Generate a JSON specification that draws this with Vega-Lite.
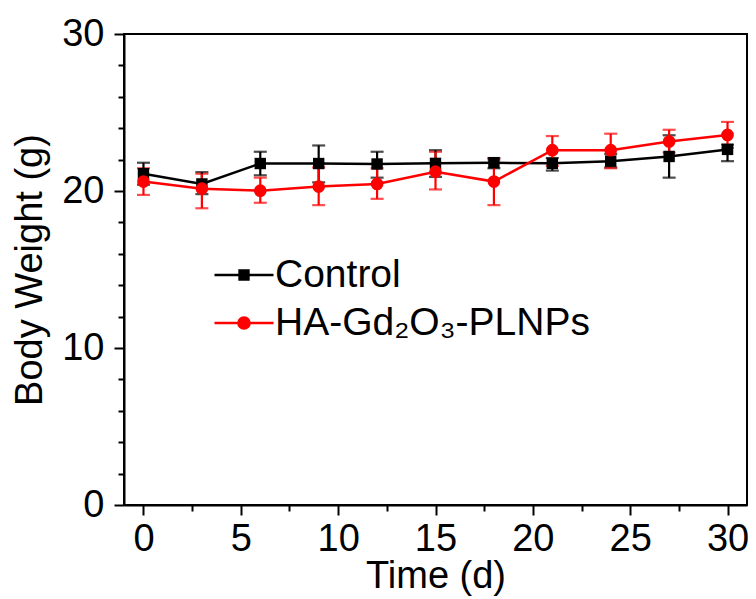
{
  "$schema": "https://vega.github.io/schema/vega-lite/v6.json",
  "width": 623,
  "height": 471,
  "autosize": {"type": "none"},
  "padding": {"left": 124, "top": 34, "right": 9, "bottom": 94},
  "background": "white",
  "config": {
    "font": "Liberation Sans",
    "view": {"stroke": "black", "strokeWidth": 2},
    "axis": {
      "domainColor": "black",
      "domainWidth": 2,
      "tickColor": "black",
      "tickWidth": 2,
      "labelColor": "black",
      "labelFont": "Liberation Sans",
      "titleFont": "Liberation Sans",
      "titleColor": "black",
      "titleFontWeight": "normal",
      "grid": false
    },
    "legend": {
      "orient": "none", "legendX": 89, "legendY": 217,
      "padding": 0, "rowPadding": 0, "clipHeight": 48,
      "symbolSize": 3481, "symbolStrokeWidth": 2.5,
      "labelFontSize": 39, "labelFont": "Liberation Sans", "labelColor": "black", "labelOffset": 0, "labelLimit": 450
    }
  },
  "data": {
    "values": [
      {"series": "Control", "t": 0, "w": 21.1, "lo": 20.4, "hi": 21.8},
      {"series": "Control", "t": 3, "w": 20.45, "lo": 19.8, "hi": 21.2},
      {"series": "Control", "t": 6, "w": 21.75, "lo": 21.0, "hi": 22.5},
      {"series": "Control", "t": 9, "w": 21.75, "lo": 20.55, "hi": 22.9},
      {"series": "Control", "t": 12, "w": 21.72, "lo": 20.85, "hi": 22.5},
      {"series": "Control", "t": 15, "w": 21.76, "lo": 20.9, "hi": 22.6},
      {"series": "Control", "t": 18, "w": 21.8, "lo": 21.45, "hi": 22.1},
      {"series": "Control", "t": 21, "w": 21.76, "lo": 21.3, "hi": 22.1},
      {"series": "Control", "t": 24, "w": 21.9, "lo": 21.5, "hi": 22.35},
      {"series": "Control", "t": 27, "w": 22.2, "lo": 20.85, "hi": 23.55},
      {"series": "Control", "t": 30, "w": 22.65, "lo": 21.9, "hi": 22.95},
      {"series": "HA-Gd₂O₃-PLNPs", "t": 0, "w": 20.6, "lo": 19.75, "hi": 21.45},
      {"series": "HA-Gd₂O₃-PLNPs", "t": 3, "w": 20.15, "lo": 18.9, "hi": 21.1},
      {"series": "HA-Gd₂O₃-PLNPs", "t": 6, "w": 20.02, "lo": 19.25, "hi": 20.85},
      {"series": "HA-Gd₂O₃-PLNPs", "t": 9, "w": 20.28, "lo": 19.1, "hi": 21.5},
      {"series": "HA-Gd₂O₃-PLNPs", "t": 12, "w": 20.45, "lo": 19.5, "hi": 21.45},
      {"series": "HA-Gd₂O₃-PLNPs", "t": 15, "w": 21.23, "lo": 20.1, "hi": 22.5},
      {"series": "HA-Gd₂O₃-PLNPs", "t": 18, "w": 20.6, "lo": 19.1, "hi": 22.0},
      {"series": "HA-Gd₂O₃-PLNPs", "t": 21, "w": 22.6, "lo": 21.6, "hi": 23.5},
      {"series": "HA-Gd₂O₃-PLNPs", "t": 24, "w": 22.6, "lo": 21.45, "hi": 23.65},
      {"series": "HA-Gd₂O₃-PLNPs", "t": 27, "w": 23.15, "lo": 22.45, "hi": 23.9},
      {"series": "HA-Gd₂O₃-PLNPs", "t": 30, "w": 23.57, "lo": 22.75, "hi": 24.4}
    ]
  },
  "layer": [
    {
      "mark": {"type": "errorbar", "thickness": 2.2, "ticks": {"size": 13, "thickness": 2.2}},
      "encoding": {
        "x": {
          "field": "t", "type": "quantitative",
          "scale": {"domain": [-1, 31], "nice": false, "zero": false},
          "axis": {
            "orient": "bottom", "values": [0, 5, 10, 15, 20, 25, 30], "tickSize": 10,
            "labelFontSize": 38, "labelPadding": 5, "title": "Time (d)", "titleFontSize": 38, "titlePadding": -1
          }
        },
        "y": {
          "field": "lo", "type": "quantitative",
          "scale": {"domain": [0, 30], "nice": false, "zero": true},
          "axis": {
            "orient": "left", "values": [0, 10, 20, 30], "tickSize": 10,
            "labelFontSize": 38, "labelPadding": 10, "title": "Body Weight (g)", "titleFontSize": 38, "titlePadding": 12
          }
        },
        "y2": {"field": "hi"},
        "color": {
          "field": "series", "type": "nominal",
          "scale": {"domain": ["Control", "HA-Gd₂O₃-PLNPs"], "range": ["#000000", "#ff0000"]},
          "legend": {
            "title": null,
            "encode": {
              "symbols": {
                "update": {
                  "shape": {"signal": "datum.value === 'Control' ? 'M-1,0H1M-0.15,-0.15H0.15V0.15H-0.15Z' : 'M-1,0H1M0.19,0A0.19,0.19,0,1,1,-0.19,0A0.19,0.19,0,1,1,0.19,0Z'"},
                  "fill": {"signal": "datum.value === 'Control' ? '#000000' : '#ff0000'"},
                  "stroke": {"signal": "datum.value === 'Control' ? '#000000' : '#ff0000'"},
                  "strokeWidth": {"value": 2.5},
                  "size": {"value": 3481},
                  "opacity": {"value": 1}
                }
              }
            }
          }
        }
      }
    },
    {
      "mark": {"type": "line", "strokeWidth": 2.5},
      "encoding": {
        "x": {"field": "t", "type": "quantitative", "axis": null},
        "y": {"field": "w", "type": "quantitative", "axis": null},
        "color": {
          "field": "series", "type": "nominal",
          "legend": {
            "title": null,
            "encode": {
              "symbols": {
                "update": {
                  "shape": {"signal": "datum.value === 'Control' ? 'M-1,0H1M-0.15,-0.15H0.15V0.15H-0.15Z' : 'M-1,0H1M0.19,0A0.19,0.19,0,1,1,-0.19,0A0.19,0.19,0,1,1,0.19,0Z'"},
                  "fill": {"signal": "datum.value === 'Control' ? '#000000' : '#ff0000'"},
                  "stroke": {"signal": "datum.value === 'Control' ? '#000000' : '#ff0000'"},
                  "strokeWidth": {"value": 2.5},
                  "size": {"value": 3481},
                  "opacity": {"value": 1}
                }
              }
            }
          }
        }
      }
    },
    {
      "transform": [{"filter": "datum.series === 'Control'"}],
      "mark": {"type": "point", "filled": true, "opacity": 1, "size": 130, "shape": "square"},
      "encoding": {
        "x": {"field": "t", "type": "quantitative", "axis": null},
        "y": {"field": "w", "type": "quantitative", "axis": null},
        "color": {
          "field": "series", "type": "nominal",
          "legend": {
            "title": null,
            "encode": {
              "symbols": {
                "update": {
                  "shape": {"signal": "datum.value === 'Control' ? 'M-1,0H1M-0.15,-0.15H0.15V0.15H-0.15Z' : 'M-1,0H1M0.19,0A0.19,0.19,0,1,1,-0.19,0A0.19,0.19,0,1,1,0.19,0Z'"},
                  "fill": {"signal": "datum.value === 'Control' ? '#000000' : '#ff0000'"},
                  "stroke": {"signal": "datum.value === 'Control' ? '#000000' : '#ff0000'"},
                  "strokeWidth": {"value": 2.5},
                  "size": {"value": 3481},
                  "opacity": {"value": 1}
                }
              }
            }
          }
        }
      }
    },
    {
      "transform": [{"filter": "datum.series !== 'Control'"}],
      "mark": {"type": "point", "filled": true, "opacity": 1, "size": 160, "shape": "circle"},
      "encoding": {
        "x": {"field": "t", "type": "quantitative", "axis": null},
        "y": {"field": "w", "type": "quantitative", "axis": null},
        "color": {
          "field": "series", "type": "nominal",
          "legend": {
            "title": null,
            "encode": {
              "symbols": {
                "update": {
                  "shape": {"signal": "datum.value === 'Control' ? 'M-1,0H1M-0.15,-0.15H0.15V0.15H-0.15Z' : 'M-1,0H1M0.19,0A0.19,0.19,0,1,1,-0.19,0A0.19,0.19,0,1,1,0.19,0Z'"},
                  "fill": {"signal": "datum.value === 'Control' ? '#000000' : '#ff0000'"},
                  "stroke": {"signal": "datum.value === 'Control' ? '#000000' : '#ff0000'"},
                  "strokeWidth": {"value": 2.5},
                  "size": {"value": 3481},
                  "opacity": {"value": 1}
                }
              }
            }
          }
        }
      }
    },
    {
      "mark": {"type": "point", "opacity": 0},
      "encoding": {
        "x": {
          "field": "t", "type": "quantitative",
          "axis": {"orient": "bottom", "values": [2.5, 7.5, 12.5, 17.5, 22.5, 27.5], "tickSize": 6, "labels": false, "domain": false, "title": null}
        },
        "y": {
          "field": "w", "type": "quantitative",
          "axis": {"orient": "left", "values": [2, 4, 6, 8, 12, 14, 16, 18, 22, 24, 26, 28], "tickSize": 6, "labels": false, "domain": false, "title": null}
        }
      }
    }
  ],
  "resolve": {
    "axis": {"x": "independent", "y": "independent"}
  }
}
